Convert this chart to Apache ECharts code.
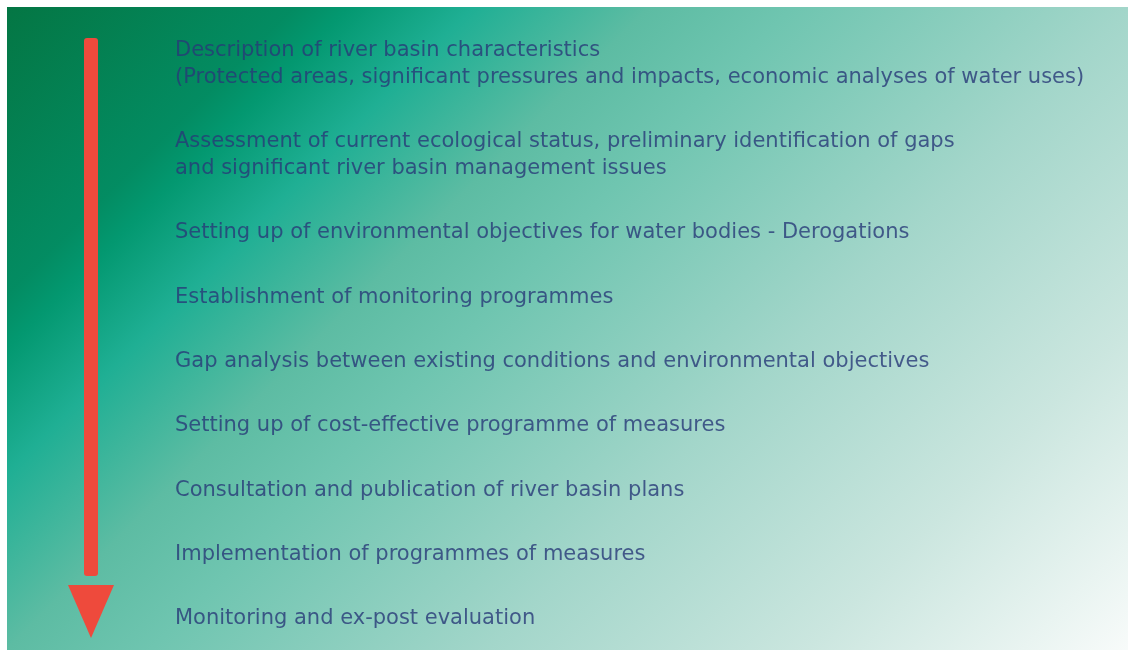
<!DOCTYPE html>
<html>
<head>
<meta charset="utf-8">
<script src="https://cdn.jsdelivr.net/npm/echarts@6/dist/echarts.min.js"></script>
<style>
  html, body { margin: 0; padding: 0; background: #fff; }
  #main { width: 1128px; height: 650px; }
</style>
</head>
<body>
<div id="main"></div>
<script>
// steps of the planning process, top to bottom
var steps = [
    'Description of river basin characteristics\n(Protected areas, significant pressures and impacts, economic analyses of water uses)',
    'Assessment of current ecological status, preliminary identification of gaps\nand significant river basin management issues',
    'Setting up of environmental objectives for water bodies - Derogations',
    'Establishment of monitoring programmes',
    'Gap analysis between existing conditions and environmental objectives',
    'Setting up of cost-effective programme of measures',
    'Consultation and publication of river basin plans',
    'Implementation of programmes of measures',
    'Monitoring and ex-post evaluation'
];

// one step = 1 unit, an extra text line adds 27/64 of a step
var LINE = 27 / 64;

var chartDom = document.getElementById('main');
var myChart = echarts.init(chartDom);

// place each step below the previous one, taking its line count into account
var first = [];
var pos = 0;
steps.forEach(function (s, i) {
    first.push(pos);
    pos += 1 + (s.split('\n').length - 1) * LINE;
});
var points = steps.map(function (s, i) {
    var lines = s.split('\n').length;
    return { value: [0, first[i] + (lines - 1) * LINE / 2], name: s };
});

var option = {
    animation: false,
    graphic: [
        {
            type: 'rect',
            z: -10,
            shape: { x: 7, y: 7, width: 1121, height: 643 },
            style: {
                // diagonal fade, dark green top left to near white bottom right
                fill: new echarts.graphic.LinearGradient(0, 0, 889, 889, [
                    { offset: 0, color: '#047542' },
                    { offset: 0.17, color: '#038c62' },
                    { offset: 0.2, color: '#039870' },
                    { offset: 0.27, color: '#1faf94' },
                    { offset: 0.37, color: '#5dbca3' },
                    { offset: 0.45, color: '#6fc5b0' },
                    { offset: 0.64, color: '#a3d6ca' },
                    { offset: 0.82, color: '#cbe6df' },
                    { offset: 1, color: '#f8fbfa' }
                ], true)
            }
        },
        {
            type: 'rect',
            shape: { x: 84, y: 38, width: 14, height: 538, r: 3 },
            style: { fill: '#ee4a3c' }
        },
        {
            type: 'polygon',
            shape: { points: [[68, 585], [114, 585], [91, 638]] },
            style: { fill: '#ee4a3c' }
        }
    ],
    grid: { left: 175, right: 0, top: 50, bottom: 31 },
    xAxis: { type: 'value', min: 0, max: 1, show: false },
    yAxis: { type: 'value', inverse: true, min: 0, max: first[first.length - 1], show: false },
    series: [
        {
            type: 'scatter',
            symbolSize: 0,
            data: points,
            label: {
                show: true,
                position: 'right',
                distance: 0,
                formatter: function (p) { return p.name; },
                color: '#283a78',
                fontFamily: 'DejaVu Sans',
                fontSize: 21,
                lineHeight: 27
            }
        }
    ]
};
option && myChart.setOption(option);
</script>
</body>
</html>
